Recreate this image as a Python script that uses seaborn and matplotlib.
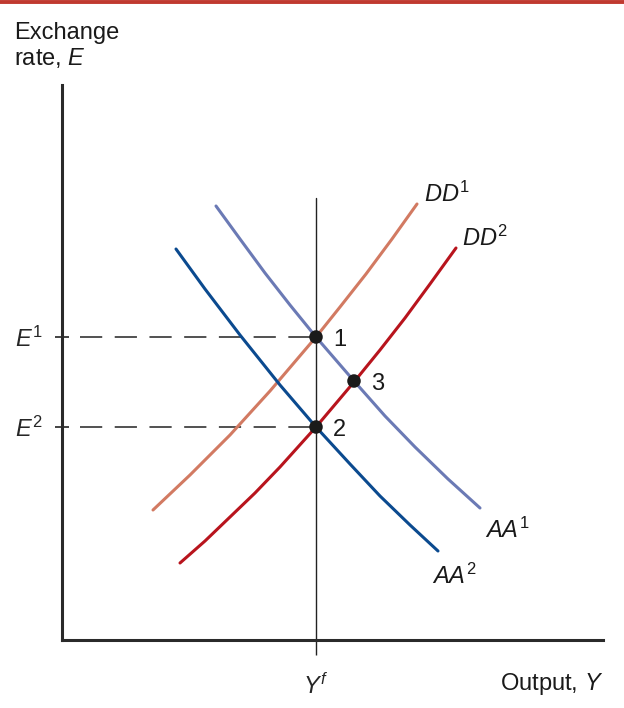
import matplotlib
matplotlib.use("Agg")
import matplotlib.pyplot as plt
import seaborn as sns
import pandas as pd
from matplotlib.lines import Line2D

# curve points (pixel-like units, y grows downward)
dd1_x = [153, 190, 210, 230, 250, 270, 293, 316, 340, 366, 392, 417]
dd1_y = [510, 475, 455, 435, 413, 391, 364, 337, 307, 274, 239, 204]
dd2_x = [180, 205, 230, 255, 280, 316, 354, 380, 405, 430, 456]
dd2_y = [563, 541, 517, 493, 467, 427, 382, 350, 318, 284, 248]
aa1_x = [216, 240, 265, 290, 316, 354, 385, 415, 448, 480]
aa1_y = [206, 239, 273, 305, 337, 381, 416, 447, 479, 508]
aa2_x = [176, 205, 240, 280, 316, 350, 380, 410, 438]
aa2_y = [249, 289, 335, 385, 427, 464, 496, 525, 551]

# equilibrium points
pt_x = [316, 316, 354]
pt_y = [337, 427, 381]
pt_labels = ["1", "2", "3"]

e_levels = [337, 427]
e_labels = ["$E^1$", "$E^2$"]
y_full = 316

sns.set_style("white")
plt.rcParams["font.family"] = ["Liberation Sans", "DejaVu Sans"]
plt.rcParams["mathtext.fontset"] = "custom"
plt.rcParams["mathtext.rm"] = "Liberation Sans"
plt.rcParams["mathtext.it"] = "Liberation Sans:italic"
plt.rcParams["lines.scale_dashes"] = False

fig = plt.figure(figsize=(6.24, 7.08), dpi=100)
ax = fig.add_axes([62 / 624, (708 - 640) / 708, (603 - 62) / 624, (640 - 85) / 708])

curves = [
    (dd1_x, dd1_y, "#d27a62"),
    (dd2_x, dd2_y, "#b8141d"),
    (aa1_x, aa1_y, "#6b7ab5"),
    (aa2_x, aa2_y, "#0b4a8f"),
]
for cx, cy, col in curves:
    df = pd.DataFrame({"x": cx, "y": cy})
    sns.lineplot(data=df, x="x", y="y", sort=False, estimator=None,
                 color=col, linewidth=2.2, ax=ax)

# full-employment output line
ax.plot([y_full, y_full], [198, 640], color="#222222", linewidth=1.0, zorder=1)

# dashed guides
for ev in e_levels:
    ax.plot([80, y_full], [ev, ev], color="#222222", linewidth=1.1,
            dashes=(16, 9), zorder=1)

sns.scatterplot(x=pt_x, y=pt_y, color="#1a1a1a", s=95, edgecolor="none",
                zorder=5, ax=ax)
for px, py, lab in zip(pt_x, pt_y, pt_labels):
    ax.text(px + 17, py + 3, lab, fontsize=17, ha="left", va="center", color="#1a1a1a")

ax.text(424, 207, "$DD^1$", fontsize=17, ha="left", va="bottom", color="#1a1a1a")
ax.text(462, 251, "$DD^2$", fontsize=17, ha="left", va="bottom", color="#1a1a1a")
ax.text(485, 543, "$AA^1$", fontsize=17, ha="left", va="bottom", color="#1a1a1a")
ax.text(432, 589, "$AA^2$", fontsize=17, ha="left", va="bottom", color="#1a1a1a")

ax.set_xlim(62, 603)
ax.set_ylim(640, 85)
ax.set_xlabel("")
ax.set_ylabel("")

ax.set_yticks(e_levels)
ax.set_yticklabels(e_labels, fontsize=17)
ax.tick_params(axis="y", direction="inout", length=10, width=1.2,
               color="#222222", pad=9, left=True)
ax.set_xticks([y_full])
ax.set_xticklabels(["$Y^f$"], fontsize=17)
ax.tick_params(axis="x", direction="out", length=11, width=1.0,
               color="#222222", pad=13, bottom=True)

for side in ["top", "right"]:
    ax.spines[side].set_visible(False)
for side in ["left", "bottom"]:
    ax.spines[side].set_linewidth(2.2)
    ax.spines[side].set_color("#2a2a2a")

fig.text(14 / 624, 1 - 22 / 708, "Exchange\nrate, $E$", fontsize=17, ha="left",
         va="top", color="#1a1a1a", linespacing=1.12)
fig.text(603 / 624, 1 - 684 / 708, "Output, $Y$", fontsize=17, ha="right",
         va="center", color="#1a1a1a")

fig.add_artist(Line2D([0, 1], [1 - 2 / 708, 1 - 2 / 708], color="#c0392f",
                      linewidth=2.8, transform=fig.transFigure))

fig.savefig("out.png", dpi=100)
